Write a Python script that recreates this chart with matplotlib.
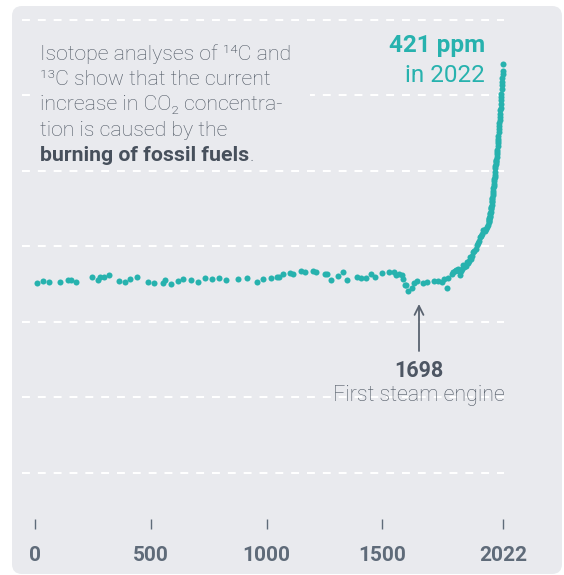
import matplotlib
matplotlib.use("Agg")
import matplotlib.pyplot as plt
from matplotlib.patches import FancyBboxPatch, Rectangle
from matplotlib.text import Annotation
from matplotlib.transforms import IdentityTransform

#%% data
years_pre = [7, 36, 60, 109, 141, 157, 179, 245, 271, 279, 300, 321, 361, 387, 410, 439,
             490, 515, 554, 560, 586, 618, 641, 672, 706, 733, 765, 796, 825, 877, 916,
             959, 983, 1019, 1044, 1055, 1073, 1100, 1116, 1148, 1166, 1200, 1213, 1253,
             1260, 1279, 1307, 1330, 1348, 1391, 1410, 1428, 1450, 1470, 1500, 1529, 1549,
             1559, 1574, 1584, 1591, 1597, 1603, 1610, 1627, 1637, 1649, 1677, 1692, 1725,
             1740, 1757, 1768, 1778, 1785]
ppm_pre = [276.0, 277.3, 276.8, 276.8, 277.5, 277.5, 276.8, 279.5, 277.7, 279.5, 280.1,
           281.0, 277.3, 276.6, 278.6, 279.5, 276.4, 276.0, 275.5, 277.7, 275.3, 277.3,
           278.8, 277.7, 276.4, 279.3, 278.6, 279.0, 278.0, 278.6, 279.3, 276.6, 278.2,
           279.0, 279.9, 280.1, 282.1, 282.3, 282.1, 283.9, 283.2, 284.1, 283.0, 281.7,
           281.5, 277.7, 280.6, 283.2, 277.7, 280.1, 279.0, 279.0, 281.5, 279.5, 282.3,
           283.2, 282.8, 281.3, 281.7, 281.0, 278.8, 274.2, 274.4, 270.4, 272.6, 276.0,
           277.3, 276.0, 276.6, 277.3, 277.0, 276.6, 278.2, 272.2, 279.3]

years_ice = [1800, 1806, 1814, 1820, 1829, 1833, 1836, 1841, 1846, 1850, 1855, 1860, 1865,
             1870, 1875, 1879, 1884, 1889, 1893, 1898, 1903, 1908, 1912, 1917, 1922, 1927,
             1932, 1937, 1941, 1945, 1950, 1954, 1957]
ppm_ice = [282.1, 283.0, 283.9, 284.6, 285.4, 284.0, 281.0, 283.5, 285.0, 287.6, 286.5,
           287.0, 289.9, 289.0, 290.5, 293.2, 292.0, 294.0, 296.5, 297.0, 298.5, 300.9,
           302.0, 303.5, 306.4, 306.8, 308.5, 310.8, 311.0, 310.5, 311.5, 312.7, 314.5]

years_ml = list(range(1959, 2023))
ppm_ml = [315.98, 316.91, 317.64, 318.45, 318.99, 319.62, 320.04, 321.37, 322.18, 323.05,
          324.62, 325.68, 326.32, 327.46, 329.68, 330.19, 331.13, 332.03, 333.84, 335.41,
          336.84, 338.76, 340.12, 341.48, 343.15, 344.87, 346.35, 347.61, 349.31, 351.69,
          353.20, 354.45, 355.70, 356.54, 357.21, 358.96, 360.97, 362.74, 363.88, 366.84,
          368.54, 369.71, 371.32, 373.45, 375.98, 377.70, 379.98, 382.09, 384.02, 385.83,
          387.64, 390.10, 391.85, 394.06, 396.74, 398.81, 401.01, 404.41, 406.76, 408.72,
          411.65, 414.21, 416.41, 421.0]

grid_levels = [150, 200, 250, 300, 350, 400, 450]
xtick_pos = [0, 500, 1000, 1500, 2022]
xtick_labels = ['0', '500', '1000', '1500', '2022']

#%% style
W, H = 564, 575
teal = '#27b2ae'
grey = '#4e5763'
dark = '#47505c'
panel = '#e9eaee'
plt.rcParams['font.family'] = ['Roboto', 'DejaVu Sans']

fig = plt.figure(figsize=(W / 100, H / 100), dpi=100, facecolor='white')

# rounded grey panel (pixel coords)
fig.patches.append(FancyBboxPatch((12 + 10, 1 + 10), 550 - 20, 568 - 20,
                                  boxstyle='round,pad=10', transform=IdentityTransform(),
                                  facecolor=panel, edgecolor='none', zorder=0))
# patch to hide the gridline behind the paragraph
fig.patches.append(Rectangle((32, H - 165), 278, 128, transform=IdentityTransform(),
                             facecolor=panel, edgecolor='none', zorder=0.5))

ax_l, ax_r, ax_t, ax_b = 22, 504, 14, 529
ax = fig.add_axes([ax_l / W, 1 - ax_b / H, (ax_r - ax_l) / W, (ax_b - ax_t) / H])
ax.set_zorder(0.2)
ax.set_facecolor('none')
ax.set_xlim((ax_l - 35) / 0.2315, (ax_r - 35) / 0.2315)
ppx = 300 / 453
ax.set_ylim(150 - (ax_b - 473) * ppx, 450 + (20 - ax_t) * ppx)
for s in ax.spines.values():
    s.set_visible(False)

ax.set_yticks(grid_levels)
ax.tick_params(axis='y', length=0, labelleft=False)
ax.grid(axis='y', color='white', linewidth=1.5, linestyle=(0, (3.8, 3.8)))

ax.set_xticks(xtick_pos)
ax.set_xticklabels(xtick_labels, fontsize=15, fontweight='bold', color='#5f6b79')
ax.tick_params(axis='x', direction='in', length=7, width=1, color='#5f6b79', pad=12)

# data dots
kw = dict(s=19, color=teal, linewidths=0, clip_on=False, zorder=3)
ax.scatter(years_pre, ppm_pre, **kw)
ax.scatter(years_ice, ppm_ice, **kw)
ax.scatter(years_ml, ppm_ml, **kw)


def ftext(px, py, s, **k):
    return fig.text(px / W, 1 - py / H, s, va='baseline', zorder=5, **k)


# paragraph
fs = 15.3
lines = ['Isotope analyses of \u00b9\u2074C and',
         '\u00b9\u00b3C show that the current',
         'increase in CO\u2082 concentra-',
         'tion is caused by the']
for i, ln in enumerate(lines):
    ftext(40, 60 + 25.2 * i, ln, fontsize=fs, color=grey, fontweight='light')
t = ftext(40, 161, 'burning of fossil fuels', fontsize=fs, color=dark, fontweight='bold')
fig.canvas.draw()
bb = t.get_window_extent()
ftext(bb.x1 + 0.5, 161, '.', fontsize=fs, color=grey, fontweight='light')

# 421 ppm label
ftext(485, 52, '421 ppm', fontsize=17.5, color=teal, fontweight='bold', ha='right')
ftext(485, 82, 'in 2022', fontsize=17.5, color=teal, ha='right')

# steam engine
fig.add_artist(Annotation(
    '', xy=(419 / W, 1 - 304 / H), xytext=(419 / W, 1 - 351 / H),
    xycoords='figure fraction', textcoords='figure fraction',
    arrowprops=dict(arrowstyle='->', color='#5a6370', lw=1.3, mutation_scale=16,
                    shrinkA=0, shrinkB=0)))
ftext(419, 377, '1698', fontsize=15.5, color='#4d5663', fontweight='bold', ha='center')
ftext(419, 401, 'First steam engine', fontsize=15.5, color=grey, fontweight='light', ha='center')

plt.savefig('out.png', dpi=100, facecolor='white')
